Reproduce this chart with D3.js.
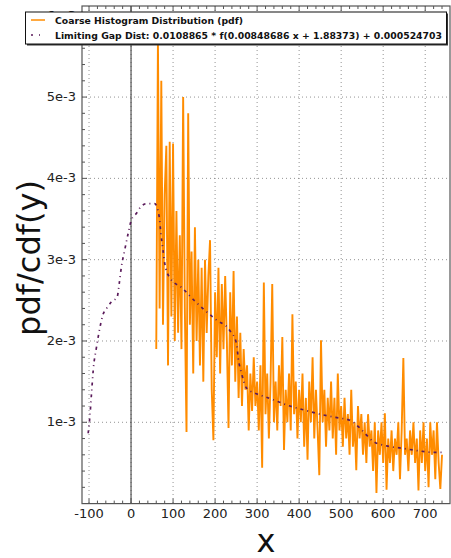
<!DOCTYPE html>
<html><head><meta charset="utf-8">
<script src="https://cdn.jsdelivr.net/npm/d3@7"></script>
<style>body{margin:0;background:#fff}svg{display:block}text{font-family:"DejaVu Sans",sans-serif}</style>
</head><body>
<svg id="c" width="451" height="558"></svg>
<script>
// Histogram: bins start at 60, step 4 (x units); values in units of 1e-3
const histStart = 60, histStep = 4;
const histValues = [
 1.9,5.7,2.4,5.2,2.2,3.8,4.4,1.7,4.45,2.3,
 4.43,2.0,3.6,2.1,3.3,1.9,5.0,2.4,0.88,4.8,
 2.2,3.1,1.6,3.4,2.0,3.0,1.7,2.9,1.5,3.0,
 2.1,2.8,3.24,1.4,0.78,2.6,1.8,2.9,1.6,2.7,
 1.9,2.8,2.0,0.93,2.6,1.7,2.86,1.5,2.3,1.3,
 2.1,1.2,1.9,1.4,1.7,0.9,1.6,1.14,1.8,1.2,
 1.5,0.9,1.7,0.44,2.72,1.1,1.6,0.8,1.5,2.7,
 1.0,1.5,0.9,1.7,1.2,2.05,0.66,1.4,1.0,1.6,
 0.9,2.33,1.1,1.5,0.8,1.4,1.0,1.6,0.7,1.3,
 0.54,1.5,1.0,1.8,0.8,1.4,0.9,0.35,2.01,1.0,
 1.4,0.7,1.3,0.9,1.5,0.8,1.3,0.6,1.6,0.9,
 1.2,0.7,1.3,0.8,1.1,0.6,1.4,0.7,1.0,0.41,
 1.2,0.8,1.1,0.6,1.0,0.5,1.1,0.7,0.9,0.4,
 1.0,0.13,0.9,0.6,1.0,0.5,1.11,0.17,0.8,0.5,
 0.9,0.4,0.8,0.6,1.0,0.3,0.9,1.79,0.6,0.8,
 0.4,0.9,0.6,1.0,0.5,0.8,0.16,0.9,0.5,1.0,
 0.4,0.8,0.2,1.0,0.6,0.9,0.3,1.0,0.5,0.18,
 0.6
];
// Fit curve points
const fitX = [-102,-98,-94,-90,-82,-75,-67,-57,-47,-33,-28,-23,-15,-7,1,13,23,38,56,67,71,76,80,92,122,148,175,203,235,251,255,263,275,294,310,342,378,413,449,487,523,549,575,608,646,683,719,739];
const fitY = [0.865,1.07,1.36,1.64,1.93,2.14,2.32,2.41,2.48,2.54,2.71,2.91,3.12,3.32,3.49,3.57,3.65,3.69,3.69,3.53,3.32,3.12,2.96,2.78,2.65,2.51,2.38,2.26,2.13,1.97,1.79,1.6,1.42,1.36,1.33,1.27,1.2,1.15,1.1,1.06,1.02,0.905,0.77,0.71,0.68,0.65,0.63,0.63];
const xTicks = [-100,0,100,200,300,400,500,600,700];
const yTicks = [1,2,3,4,5,6];
const yTickLabels = ["1e-3","2e-3","3e-3","4e-3","5e-3","6e-3"];
const legendLabels = ["Coarse Histogram Distribution (pdf)","Limiting Gap Dist: 0.0108865 * f(0.00848686 x + 1.88373) + 0.000524703"];

const svg = d3.select("#c");
const L = 82, R = 450, T = 6, B = 503.6;
const x = d3.scaleLinear().domain([-116.7, 759]).range([L, R]);
const y = d3.scaleLinear().domain([0, 6.12]).range([B, T]);

svg.append("clipPath").attr("id","clp").append("rect")
  .attr("x",L).attr("y",T).attr("width",R-L).attr("height",B-T);

// grid
const g = svg.append("g");
g.selectAll(".gx").data(xTicks).join("line")
  .attr("x1",d=>x(d)).attr("x2",d=>x(d)).attr("y1",T).attr("y2",B)
  .attr("stroke","#777").attr("stroke-width",0.8).attr("stroke-dasharray","1,3");
g.selectAll(".gy").data(yTicks).join("line")
  .attr("x1",L).attr("x2",R).attr("y1",d=>y(d)).attr("y2",d=>y(d))
  .attr("stroke","#777").attr("stroke-width",0.8).attr("stroke-dasharray","1,3");
g.append("line").attr("x1",x(0)).attr("x2",x(0)).attr("y1",T).attr("y2",B)
  .attr("stroke","#333").attr("stroke-width",1);

// histogram
const hist = histValues.map((v,i)=>[histStart+i*histStep, v]);
svg.append("path").datum(hist).attr("clip-path","url(#clp)")
  .attr("fill","none").attr("stroke","#ff8c00").attr("stroke-width",1.9).attr("stroke-linejoin","bevel")
  .attr("d", d3.line().x(d=>x(d[0])).y(d=>y(d[1])));

// fit
const fit = fitX.map((v,i)=>[v, fitY[i]]);
svg.append("path").datum(fit).attr("clip-path","url(#clp)")
  .attr("fill","none").attr("stroke","#5a1a5a").attr("stroke-width",1.7)
  .attr("stroke-dasharray","3,4,1,4")
  .attr("d", d3.line().curve(d3.curveMonotoneX).x(d=>x(d[0])).y(d=>y(d[1])));

// frame
svg.append("rect").attr("x",L).attr("y",T).attr("width",R-L).attr("height",B-T)
  .attr("fill","none").attr("stroke","#555").attr("stroke-width",1.2);

// ticks (inside)
const xMinor = d3.range(-100, 760, 20);
const yMinor = d3.range(0.2, 6.1, 0.2);
const tk = svg.append("g").attr("stroke","#555").attr("stroke-width",1);
tk.selectAll(".a").data(xMinor).join("line").attr("x1",d=>x(d)).attr("x2",d=>x(d)).attr("y1",B).attr("y2",d=>B-(d%100===0?5:3));
tk.selectAll(".b").data(xMinor).join("line").attr("x1",d=>x(d)).attr("x2",d=>x(d)).attr("y1",T).attr("y2",d=>T+(d%100===0?5:3));
tk.selectAll(".c").data(yMinor).join("line").attr("y1",d=>y(d)).attr("y2",d=>y(d)).attr("x1",L).attr("x2",d=>L+(Math.abs(d-Math.round(d))<1e-6?5:3));

// tick labels
svg.append("g").selectAll("text").data(xTicks).join("text")
  .attr("x",d=>x(d)).attr("y",518).attr("text-anchor","middle")
  .attr("font-size",13).attr("fill","#222").text(d=>d);
svg.append("g").selectAll("text").data(yTicks).join("text")
  .attr("x",76).attr("y",d=>y(d)+4).attr("text-anchor","end")
  .attr("font-size",13).attr("fill","#222").text((d,i)=>yTickLabels[i]);

// axis titles
svg.append("text").attr("x",266).attr("y",552).attr("text-anchor","middle")
  .attr("font-size",32).attr("fill","#111").text("x");
svg.append("text").attr("transform","translate(40,258) rotate(-90)").attr("text-anchor","middle")
  .attr("font-size",32).attr("fill","#111").text("pdf/cdf(y)");

// legend
const lg = svg.append("g");
lg.append("rect").attr("x",27).attr("y",13.5).attr("width",421).attr("height",32).attr("fill","#333");
lg.append("rect").attr("x",25.5).attr("y",12).attr("width",421).attr("height",32)
  .attr("fill","#fff").attr("stroke","#111").attr("stroke-width",1);
lg.append("line").attr("x1",31).attr("x2",45).attr("y1",20).attr("y2",20).attr("stroke","#ff8c00").attr("stroke-width",1.5);
lg.append("line").attr("x1",31).attr("x2",45).attr("y1",35).attr("y2",35).attr("stroke","#5a1a5a").attr("stroke-width",1.7).attr("stroke-dasharray","2,6,1,6");
lg.append("text").attr("x",55).attr("y",23.5).attr("font-size",9.5).attr("font-weight","bold").attr("fill","#111")
  .attr("textLength",188).attr("lengthAdjust","spacingAndGlyphs").text(legendLabels[0]);
lg.append("text").attr("x",55).attr("y",38.5).attr("font-size",9.5).attr("font-weight","bold").attr("fill","#111")
  .attr("textLength",387).attr("lengthAdjust","spacingAndGlyphs").text(legendLabels[1]);
</script>
</body></html>
